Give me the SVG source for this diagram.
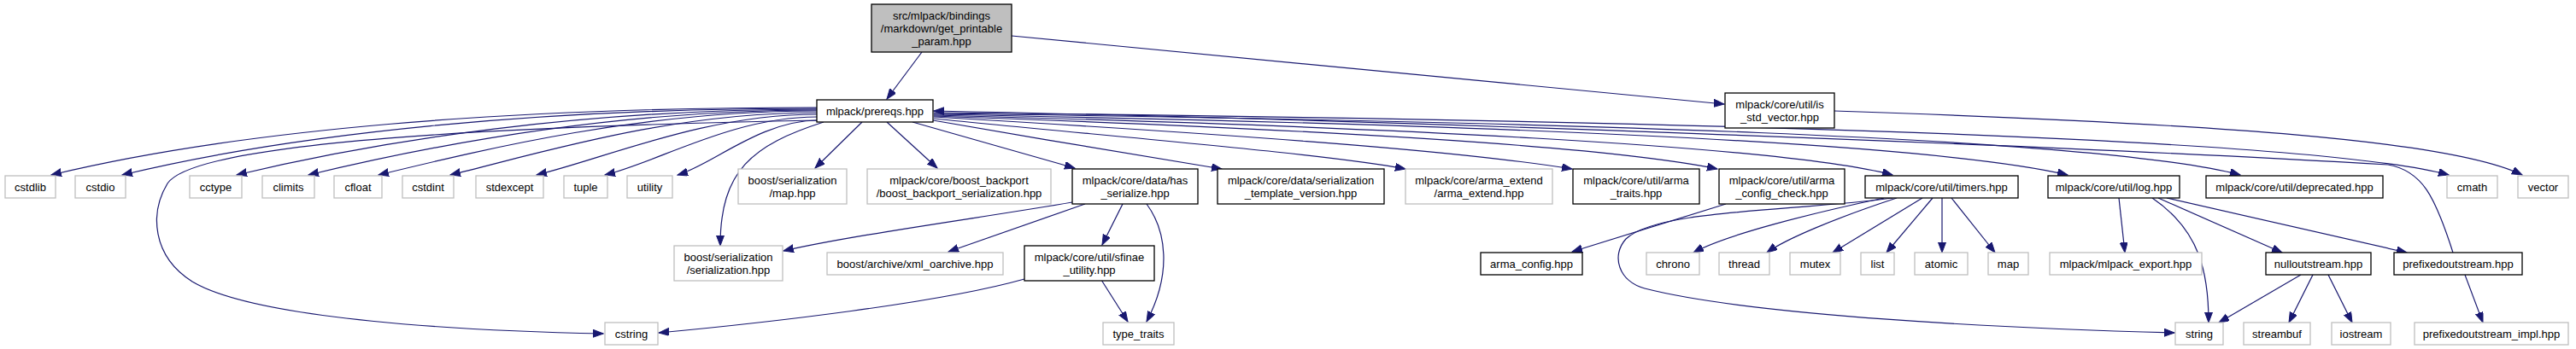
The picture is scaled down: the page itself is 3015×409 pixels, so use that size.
<svg xmlns="http://www.w3.org/2000/svg" width="3015" height="409" viewBox="0 0 3015 409">
<style>
rect{stroke-width:1.3}
.d rect{fill:#fff;stroke:#000}
.g rect{fill:#fff;stroke:#bfbfbf}
.r rect{fill:#bfbfbf;stroke:#000}
text{font-family:"Liberation Sans",Arial,sans-serif;font-size:13px;text-anchor:middle;fill:#000}
#edges path{fill:none;stroke:#191970;stroke-width:1.2;marker-end:url(#a)}
</style>
<defs>
<marker id="a" markerWidth="13" markerHeight="10" refX="12" refY="4.5" orient="auto" markerUnits="userSpaceOnUse">
<path d="M0,0 L12,4.5 L0,9 Z" fill="#191970" stroke="#191970" stroke-width="1"/>
</marker>
</defs>
<rect x="0" y="0" width="3015" height="409" fill="#fff" stroke="none"/>
<g id="edges">
<path d="M1079,61 L1038,116"/>
<path d="M1184,42 L2018,122"/>
<path d="M956,126 C598,126 284,151 60,205"/>
<path d="M956,127 C631,127 346,156 143,205"/>
<path d="M956,128 C684,128 447,164 277,205"/>
<path d="M956,129 C718,129 510,169 361,205"/>
<path d="M956,130 C751,130 571,174 443,205"/>
<path d="M956,132 C784,132 634,179 527,205"/>
<path d="M956,134 C825,134 710,185 628,205"/>
<path d="M956,137 C857,137 770,190 708,205"/>
<path d="M958,141 C890,141 834,193 793,205"/>
<path d="M957,141 C600,148 230,165 196,215 C175,250 178,300 225,330 C300,375 550,388 706,391"/>
<path d="M964,143 C880,170 843,200 843,288"/>
<path d="M1009,143 L954,197"/>
<path d="M1038,143 L1097,197"/>
<path d="M1068,143 L1258,197"/>
<path d="M1092,141 C1200,160 1350,185 1430,198"/>
<path d="M1093,139 C1300,160 1550,180 1645,198"/>
<path d="M1093,137 C1400,155 1700,175 1840,198"/>
<path d="M1093,136 C1500,150 1880,170 2010,198"/>
<path d="M1093,135 C1600,148 2080,170 2215,205"/>
<path d="M1093,134 C1700,145 2250,165 2420,205"/>
<path d="M1093,133 C1800,142 2450,160 2622,205"/>
<path d="M1093,132 C1900,140 2700,160 2866,205"/>
<path d="M2871,296 C2850,230 2835,200 2795,193 C2400,170 1600,140 1093,130"/>
<path d="M2147,130 C2600,145 2870,165 2952,205"/>
<path d="M1255,237 C1150,255 1000,275 917,294"/>
<path d="M1270,239 L1110,295"/>
<path d="M1314,239 L1290,287"/>
<path d="M1342,239 C1365,270 1372,320 1342,377"/>
<path d="M1289,328 L1320,377"/>
<path d="M1199,327 C1100,355 900,378 771,390"/>
<path d="M2020,239 L1840,295"/>
<path d="M2205,232 C2120,250 2020,275 1982,296"/>
<path d="M2220,232 C2150,255 2090,280 2068,296"/>
<path d="M2250,232 L2145,296"/>
<path d="M2262,232 L2208,296"/>
<path d="M2273,232 L2273,296"/>
<path d="M2284,232 L2335,296"/>
<path d="M2215,232 C2100,248 1940,245 1903,280 C1885,300 1895,330 1925,338 C2050,370 2350,385 2545,390"/>
<path d="M2480,232 L2487,296"/>
<path d="M2519,232 C2575,270 2585,320 2585,378"/>
<path d="M2526,232 L2671,296"/>
<path d="M2536,232 L2817,296"/>
<path d="M2693,322 L2597,378"/>
<path d="M2707,322 L2679,378"/>
<path d="M2725,322 L2753,378"/>
<path d="M2885,322 L2906,378"/>
</g>
<g id="n_top" class="r"><rect x="1020" y="5" width="164" height="56"/><text x="1102" y="22.5">src/mlpack/bindings</text><text x="1102" y="37.5">/markdown/get_printable</text><text x="1102" y="52.5">_param.hpp</text></g>
<g id="n_prereqs" class="d"><rect x="956" y="117" width="136" height="26"/><text x="1024" y="134.5">mlpack/prereqs.hpp</text></g>
<g id="n_is_std_vector" class="d"><rect x="2019" y="109" width="128" height="41"/><text x="2083" y="126.5">mlpack/core/util/is</text><text x="2083" y="141.5">_std_vector.hpp</text></g>
<g id="n_cstdlib" class="g"><rect x="6" y="206" width="59" height="26"/><text x="35.5" y="223.5">cstdlib</text></g>
<g id="n_cstdio" class="g"><rect x="88" y="206" width="59" height="26"/><text x="117.5" y="223.5">cstdio</text></g>
<g id="n_cctype" class="g"><rect x="222" y="206" width="61" height="26"/><text x="252.5" y="223.5">cctype</text></g>
<g id="n_climits" class="g"><rect x="307" y="206" width="61" height="26"/><text x="337.5" y="223.5">climits</text></g>
<g id="n_cfloat" class="g"><rect x="391" y="206" width="56" height="26"/><text x="419" y="223.5">cfloat</text></g>
<g id="n_cstdint" class="g"><rect x="471" y="206" width="60" height="26"/><text x="501" y="223.5">cstdint</text></g>
<g id="n_stdexcept" class="g"><rect x="557" y="206" width="79" height="26"/><text x="596.5" y="223.5">stdexcept</text></g>
<g id="n_tuple" class="g"><rect x="660" y="206" width="51" height="26"/><text x="685.5" y="223.5">tuple</text></g>
<g id="n_utility" class="g"><rect x="734" y="206" width="53" height="26"/><text x="760.5" y="223.5">utility</text></g>
<g id="n_map_hpp" class="g"><rect x="864" y="198" width="127" height="41"/><text x="927.5" y="215.5">boost/serialization</text><text x="927.5" y="230.5">/map.hpp</text></g>
<g id="n_boost_backport" class="g"><rect x="1015" y="198" width="215" height="41"/><text x="1122.5" y="215.5">mlpack/core/boost_backport</text><text x="1122.5" y="230.5">/boost_backport_serialization.hpp</text></g>
<g id="n_has_serialize" class="d"><rect x="1255" y="198" width="147" height="41"/><text x="1328.5" y="215.5">mlpack/core/data/has</text><text x="1328.5" y="230.5">_serialize.hpp</text></g>
<g id="n_ser_template" class="d"><rect x="1425" y="198" width="195" height="41"/><text x="1522.5" y="215.5">mlpack/core/data/serialization</text><text x="1522.5" y="230.5">_template_version.hpp</text></g>
<g id="n_arma_extend" class="g"><rect x="1645" y="198" width="172" height="41"/><text x="1731" y="215.5">mlpack/core/arma_extend</text><text x="1731" y="230.5">/arma_extend.hpp</text></g>
<g id="n_arma_traits" class="d"><rect x="1841" y="198" width="148" height="41"/><text x="1915" y="215.5">mlpack/core/util/arma</text><text x="1915" y="230.5">_traits.hpp</text></g>
<g id="n_arma_config_check" class="d"><rect x="2012" y="198" width="147" height="41"/><text x="2085.5" y="215.5">mlpack/core/util/arma</text><text x="2085.5" y="230.5">_config_check.hpp</text></g>
<g id="n_timers" class="d"><rect x="2183" y="206" width="179" height="26"/><text x="2272.5" y="223.5">mlpack/core/util/timers.hpp</text></g>
<g id="n_log" class="d"><rect x="2397" y="206" width="154" height="26"/><text x="2474" y="223.5">mlpack/core/util/log.hpp</text></g>
<g id="n_deprecated" class="d"><rect x="2582" y="206" width="207" height="26"/><text x="2685.5" y="223.5">mlpack/core/util/deprecated.hpp</text></g>
<g id="n_cmath" class="g"><rect x="2864" y="206" width="59" height="26"/><text x="2893.5" y="223.5">cmath</text></g>
<g id="n_vector" class="g"><rect x="2947" y="206" width="59" height="26"/><text x="2976.5" y="223.5">vector</text></g>
<g id="n_serialization_hpp" class="g"><rect x="789" y="288" width="127" height="41"/><text x="852.5" y="305.5">boost/serialization</text><text x="852.5" y="320.5">/serialization.hpp</text></g>
<g id="n_xml_oarchive" class="g"><rect x="968" y="296" width="206" height="26"/><text x="1071" y="313.5">boost/archive/xml_oarchive.hpp</text></g>
<g id="n_sfinae" class="d"><rect x="1199" y="288" width="152" height="41"/><text x="1275" y="305.5">mlpack/core/util/sfinae</text><text x="1275" y="320.5">_utility.hpp</text></g>
<g id="n_arma_config" class="d"><rect x="1733" y="296" width="119" height="26"/><text x="1792.5" y="313.5">arma_config.hpp</text></g>
<g id="n_chrono" class="g"><rect x="1927" y="296" width="62" height="26"/><text x="1958" y="313.5">chrono</text></g>
<g id="n_thread" class="g"><rect x="2012" y="296" width="59" height="26"/><text x="2041.5" y="313.5">thread</text></g>
<g id="n_mutex" class="g"><rect x="2095" y="296" width="59" height="26"/><text x="2124.5" y="313.5">mutex</text></g>
<g id="n_list" class="g"><rect x="2178" y="296" width="39" height="26"/><text x="2197.5" y="313.5">list</text></g>
<g id="n_atomic" class="g"><rect x="2241" y="296" width="62" height="26"/><text x="2272" y="313.5">atomic</text></g>
<g id="n_map" class="g"><rect x="2327" y="296" width="47" height="26"/><text x="2350.5" y="313.5">map</text></g>
<g id="n_mlpack_export" class="g"><rect x="2399" y="296" width="178" height="26"/><text x="2488" y="313.5">mlpack/mlpack_export.hpp</text></g>
<g id="n_nulloutstream" class="d"><rect x="2652" y="296" width="123" height="26"/><text x="2713.5" y="313.5">nulloutstream.hpp</text></g>
<g id="n_prefixedoutstream" class="d"><rect x="2802" y="296" width="150" height="26"/><text x="2877" y="313.5">prefixedoutstream.hpp</text></g>
<g id="n_cstring" class="g"><rect x="708" y="378" width="62" height="26"/><text x="739" y="395.5">cstring</text></g>
<g id="n_type_traits" class="g"><rect x="1291" y="378" width="83" height="26"/><text x="1332.5" y="395.5">type_traits</text></g>
<g id="n_string" class="g"><rect x="2546" y="378" width="56" height="26"/><text x="2574" y="395.5">string</text></g>
<g id="n_streambuf" class="g"><rect x="2626" y="378" width="78" height="26"/><text x="2665" y="395.5">streambuf</text></g>
<g id="n_iostream" class="g"><rect x="2729" y="378" width="69" height="26"/><text x="2763.5" y="395.5">iostream</text></g>
<g id="n_prefixed_impl" class="g"><rect x="2826" y="378" width="180" height="26"/><text x="2916" y="395.5">prefixedoutstream_impl.hpp</text></g>
</svg>
